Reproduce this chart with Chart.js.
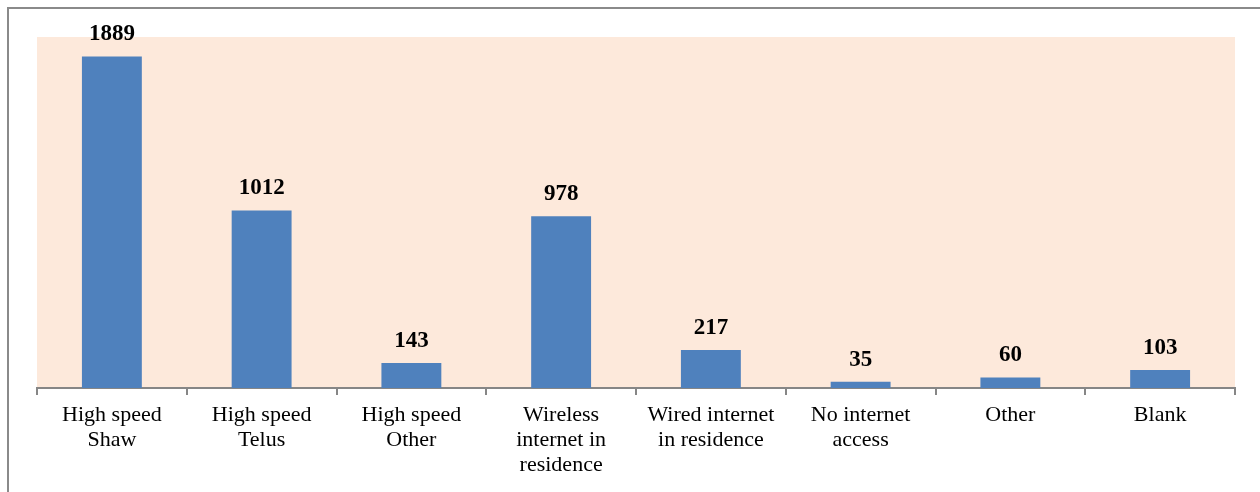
<!DOCTYPE html>
<html>
<head>
<meta charset="utf-8">
<script src="https://cdn.jsdelivr.net/npm/chart.js@4/dist/chart.umd.min.js"></script>
<style>
    html, body { margin: 0; padding: 0; background: #fff; overflow: hidden; }
    #wrap { position: relative; width: 1260px; height: 492px; }
    #frame { position: absolute; left: 7px; top: 7px; width: 1400px; height: 600px; border: 2px solid #8a8a8a; box-sizing: border-box; pointer-events: none; }
</style>
</head>
<body>
<div id="wrap">
    <canvas id="myChart" width="1260" height="492"></canvas>
    <div id="frame"></div>
</div>
<script>
    const categories = [
        ['High speed', 'Shaw'],
        ['High speed', 'Telus'],
        ['High speed', 'Other'],
        ['Wireless', 'internet in', 'residence'],
        ['Wired internet', 'in residence'],
        ['No internet', 'access'],
        'Other',
        'Blank'
    ];
    const counts = [1889, 1012, 143, 978, 217, 35, 60, 103];

    const FONT = "'Liberation Serif', 'DejaVu Serif', serif";

    const plotBackground = {
        id: 'plotBackground',
        beforeDraw(chart) {
            const { ctx, chartArea } = chart;
            ctx.save();
            ctx.fillStyle = '#fde9db';
            ctx.fillRect(chartArea.left, chartArea.top, chartArea.right - chartArea.left, chartArea.bottom - chartArea.top);
            ctx.restore();
        }
    };

    const valueLabels = {
        id: 'valueLabels',
        afterDatasetsDraw(chart) {
            const ctx = chart.ctx;
            const meta = chart.getDatasetMeta(0);
            ctx.save();
            ctx.font = 'bold 23px ' + FONT;
            ctx.fillStyle = '#000';
            ctx.textAlign = 'center';
            ctx.textBaseline = 'middle';
            meta.data.forEach((bar, i) => {
                ctx.fillText(String(counts[i]), bar.x, bar.y - 22);
            });
            ctx.restore();
        }
    };

    let canvas = document.getElementById('myChart');
    new Chart(canvas.getContext('2d'), {
        type: 'bar',
        data: {
            labels: categories,
            datasets: [{
                data: counts,
                backgroundColor: '#4f81bd',
                borderWidth: 0,
                categoryPercentage: 1,
                barPercentage: 0.4
            }]
        },
        options: {
            responsive: false,
            animation: false,
            layout: { padding: { left: 37, right: 25, top: 37, bottom: 0 } },
            plugins: { legend: { display: false }, tooltip: { enabled: false } },
            scales: {
                y: { display: false, min: 0, max: 2000 },
                x: {
                    grid: { offset: true, drawOnChartArea: false, tickLength: 7, color: '#868686', lineWidth: 2 },
                    border: { color: '#868686', width: 2 },
                    ticks: {
                        color: '#000',
                        font: { family: FONT, size: 22, lineHeight: 1.14 },
                        padding: 8,
                        maxRotation: 0,
                        autoSkip: false
                    },
                    afterFit(scale) { scale.height = 104; }
                }
            }
        },
        plugins: [plotBackground, valueLabels]
    });
</script>
</body>
</html>
